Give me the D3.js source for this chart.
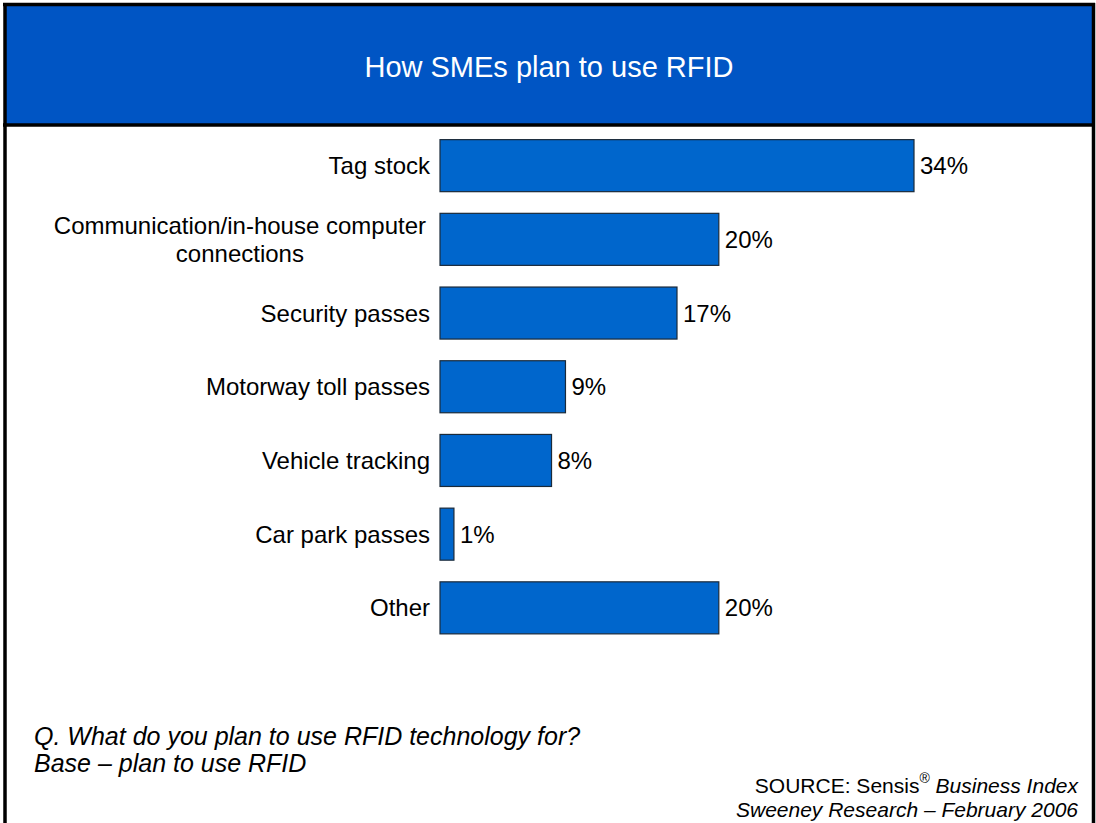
<!DOCTYPE html>
<html>
<head>
<meta charset="utf-8">
<script src="https://cdn.jsdelivr.net/npm/d3@7"></script>
<style>
  html, body { margin: 0; padding: 0; background: #ffffff; }
  svg { display: block; font-family: Arial, "Liberation Sans", Helvetica, sans-serif; }
</style>
</head>
<body>
<svg id="chart" width="1096" height="823"></svg>
<script>
// Survey answers: how SMEs plan to use RFID (percent of those planning to use it)
const categories = [
  ["Tag stock"],
  ["Communication/in-house computer", "connections"],
  ["Security passes"],
  ["Motorway toll passes"],
  ["Vehicle tracking"],
  ["Car park passes"],
  ["Other"]
];
const values = [34, 20, 17, 9, 8, 1, 20];

const titleText = "How SMEs plan to use RFID";
const questionLines = ["Q. What do you plan to use RFID technology for?", "Base \u2013 plan to use RFID"];

const svg = d3.select("#chart");
const W = 1096, H = 823;

// Frame and header band
svg.append("rect").attr("x", 0).attr("y", 0).attr("width", W).attr("height", H).attr("fill", "#ffffff");
svg.append("rect")
  .attr("x", 5).attr("y", 4.5).attr("width", 1088.5).attr("height", 120.5)
  .attr("fill", "#0055C4");
svg.append("text")
  .attr("x", 549).attr("y", 76.5)
  .attr("text-anchor", "middle")
  .attr("fill", "#ffffff")
  .attr("font-size", 29)
  .text(titleText);

// Borders
const border = svg.append("g").attr("stroke", "#000000").attr("stroke-width", 3.5).attr("fill", "none");
border.append("line").attr("x1", 5).attr("x2", 5).attr("y1", 3).attr("y2", H + 5);
border.append("line").attr("x1", 1093.5).attr("x2", 1093.5).attr("y1", 3).attr("y2", H + 5);
border.append("line").attr("x1", 3).attr("x2", 1095).attr("y1", 4.5).attr("y2", 4.5);
border.append("line").attr("x1", 3).attr("x2", 1095).attr("y1", 125).attr("y2", 125);

// Scales
const ids = categories.map((c, i) => i);
const x = d3.scaleLinear().domain([0, d3.max(values)]).range([440, 914]);
const y = d3.scaleBand().domain(ids).range([128.8, 644.7]).paddingInner(0.294).paddingOuter(0.147);

// Bars
svg.append("g").selectAll("rect")
  .data(ids)
  .join("rect")
  .attr("x", x(0))
  .attr("y", i => y(i))
  .attr("width", i => x(values[i]) - x(0))
  .attr("height", y.bandwidth())
  .attr("fill", "#0066CC")
  .attr("stroke", "#1a2a3a")
  .attr("stroke-width", 1.2);

// Value labels
svg.append("g").selectAll("text")
  .data(ids)
  .join("text")
  .attr("x", i => x(values[i]) + 6)
  .attr("y", i => y(i) + y.bandwidth() / 2)
  .attr("dy", "0.36em")
  .attr("font-size", 24)
  .attr("fill", "#000000")
  .text(i => values[i] + "%");

// Category labels (multi-line labels are centred on their widest line)
const lineGap = 28;
const labelRight = 430;
const lab = svg.append("g").attr("font-size", 24).attr("fill", "#000000");
ids.forEach(i => {
  const lines = categories[i];
  const cy = y(i) + y.bandwidth() / 2;
  const t = lab.append("text").attr("y", cy);
  lines.forEach((ln, k) => {
    t.append("tspan")
      .attr("y", cy + (k - (lines.length - 1) / 2) * lineGap)
      .attr("dy", "0.36em")
      .text(ln);
  });
  if (lines.length === 1) {
    t.attr("text-anchor", "end").selectAll("tspan").attr("x", labelRight);
  } else {
    const widths = t.selectAll("tspan").nodes().map(n => n.getComputedTextLength());
    const wmax = d3.max(widths);
    t.attr("text-anchor", "middle").selectAll("tspan").attr("x", labelRight - 4 - wmax / 2);
  }
});

// Question note
const q = svg.append("text").attr("font-size", 25).attr("font-style", "italic").attr("fill", "#000000");
questionLines.forEach((ln, k) => {
  q.append("tspan").attr("x", 34).attr("y", 745 + k * 27).text(ln);
});

// Source note
const src = svg.append("text").attr("font-size", 21).attr("fill", "#000000").attr("text-anchor", "end");
const s1 = src.append("tspan").attr("x", 1078).attr("y", 793);
s1.append("tspan").text("SOURCE: Sensis");
s1.append("tspan").attr("font-size", 14).attr("dy", -10).text("\u00AE");
s1.append("tspan").attr("dy", 10).attr("font-style", "italic").text(" Business Index");
src.append("tspan").attr("x", 1078).attr("y", 817).attr("font-style", "italic").text("Sweeney Research \u2013 February 2006");
</script>
</body>
</html>
